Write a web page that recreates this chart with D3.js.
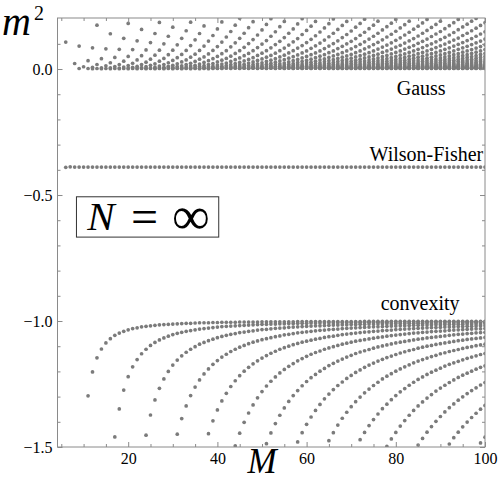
<!DOCTYPE html>
<html lang="en">
<head>
<meta charset="UTF-8">
<title>m2 versus M at N = infinity</title>
<style>
  body { margin: 0; background: #fff; }
  svg { display: block; }
  .axis .tick line { stroke: #8a8a8a; }
  .axis .tick text { font-family: "Liberation Serif", "DejaVu Serif", serif; font-size: 16px; fill: #000; }
  .note { font-family: "Liberation Serif", "DejaVu Serif", serif; fill: #000; }
</style>
</head>
<body>
<svg width="498" height="481"></svg>
<script src="https://d3js.org/d3.v7.min.js"></script>
<script>

// ticks
var mTicks = [20, 40, 60, 80, 100];
var mMinorTicks = [5, 10, 15, 25, 30, 35, 45, 50, 55, 65, 70, 75, 85, 90, 95];
var m2Ticks = [0.0, -0.5, -1.0, -1.5];
var m2MinorTicks = [0.1, -0.1, -0.2, -0.3, -0.4, -0.6, -0.7, -0.8, -0.9, -1.1, -1.2, -1.3, -1.4];

// Wilson-Fisher solutions, one per M starting at M = 6
var wilsonFisherStart = 6;
var wilsonFisher = [
  -0.390, -0.388, -0.389, -0.389, -0.389, -0.389, -0.389, -0.389, -0.389, -0.389,
  -0.389, -0.389, -0.389, -0.389, -0.389, -0.389, -0.389, -0.389, -0.389, -0.389,
  -0.389, -0.389, -0.389, -0.389, -0.389, -0.389, -0.389, -0.389, -0.389, -0.389,
  -0.389, -0.389, -0.389, -0.389, -0.389, -0.389, -0.389, -0.389, -0.389, -0.389,
  -0.389, -0.389, -0.389, -0.389, -0.389, -0.389, -0.389, -0.389, -0.389, -0.389,
  -0.389, -0.389, -0.389, -0.389, -0.389, -0.389, -0.389, -0.389, -0.389, -0.389,
  -0.389, -0.389, -0.389, -0.389, -0.389, -0.389, -0.389, -0.389, -0.389, -0.389,
  -0.389, -0.389, -0.389, -0.389, -0.389, -0.389, -0.389, -0.389, -0.389, -0.389,
  -0.389, -0.389, -0.389, -0.389, -0.389, -0.389, -0.389, -0.389, -0.389, -0.389,
  -0.389, -0.389, -0.389, -0.389, -0.389
];

// spurious roots near the Gaussian point: one list of m^2 values per M
var gauss06to30 = [
  [0.107], [], [0.022], [0.091, 0.002], [0.009],
  [0.033, 0.002], [0.084, 0.007, 0.001], [0.174, 0.018, 0.002], [0.041, 0.005, 0.001], [0.080, 0.013, 0.002],
  [0.140, 0.025, 0.005, 0.001], [0.046, 0.010, 0.002], [0.078, 0.018, 0.004, 0.001], [0.122, 0.031, 0.008, 0.002], [0.181, 0.050, 0.014, 0.004, 0.001],
  [0.077, 0.023, 0.007, 0.002], [0.112, 0.036, 0.011, 0.004, 0.001], [0.157, 0.053, 0.018, 0.006, 0.002], [0.076, 0.027, 0.010, 0.003, 0.001], [0.105, 0.039, 0.015, 0.005, 0.002],
  [0.141, 0.055, 0.021, 0.008, 0.003, 0.001], [0.185, 0.075, 0.031, 0.012, 0.005, 0.002], [0.100, 0.042, 0.018, 0.007, 0.003, 0.001], [0.130, 0.057, 0.025, 0.011, 0.005, 0.002], [0.166, 0.075, 0.034, 0.015, 0.007, 0.003, 0.001]
];
var gauss31to55 = [
  [0.096, 0.045, 0.021, 0.010, 0.004, 0.002],
  [0.122, 0.058, 0.028, 0.013, 0.006, 0.003, 0.001],
  [0.152, 0.074, 0.036, 0.018, 0.009, 0.004, 0.002],
  [0.186, 0.093, 0.047, 0.023, 0.012, 0.006, 0.003, 0.001],
  [0.116, 0.059, 0.030, 0.015, 0.008, 0.004, 0.002],
  [0.141, 0.074, 0.039, 0.020, 0.011, 0.005, 0.003, 0.001],
  [0.171, 0.091, 0.048, 0.026, 0.014, 0.007, 0.004, 0.002],
  [0.111, 0.060, 0.033, 0.018, 0.010, 0.005, 0.003, 0.001],
  [0.133, 0.074, 0.041, 0.022, 0.012, 0.007, 0.004, 0.002],
  [0.159, 0.089, 0.050, 0.028, 0.016, 0.009, 0.005, 0.003, 0.002],
  [0.187, 0.107, 0.061, 0.035, 0.020, 0.011, 0.006, 0.004, 0.002],
  [0.127, 0.073, 0.042, 0.024, 0.014, 0.008, 0.005, 0.003],
  [0.149, 0.088, 0.051, 0.030, 0.018, 0.010, 0.006, 0.004, 0.002],
  [0.174, 0.104, 0.062, 0.037, 0.022, 0.013, 0.008, 0.005, 0.003],
  [0.202, 0.122, 0.073, 0.044, 0.026, 0.016, 0.010, 0.006, 0.003, 0.002],
  [0.142, 0.086, 0.053, 0.032, 0.019, 0.012, 0.007, 0.004, 0.003],
  [0.164, 0.101, 0.062, 0.038, 0.024, 0.014, 0.009, 0.005, 0.003, 0.002],
  [0.188, 0.117, 0.073, 0.045, 0.028, 0.018, 0.011, 0.007, 0.004, 0.003],
  [0.135, 0.085, 0.054, 0.034, 0.021, 0.013, 0.008, 0.005, 0.003, 0.002],
  [0.155, 0.099, 0.063, 0.040, 0.025, 0.016, 0.010, 0.006, 0.004, 0.003],
  [0.177, 0.113, 0.073, 0.047, 0.030, 0.019, 0.012, 0.008, 0.005, 0.003, 0.002],
  [0.200, 0.130, 0.084, 0.054, 0.035, 0.023, 0.015, 0.010, 0.006, 0.004, 0.003],
  [0.148, 0.097, 0.063, 0.041, 0.027, 0.018, 0.011, 0.008, 0.005, 0.003, 0.002],
  [0.168, 0.110, 0.073, 0.048, 0.032, 0.021, 0.014, 0.009, 0.006, 0.004, 0.003],
  [0.189, 0.125, 0.083, 0.055, 0.037, 0.024, 0.016, 0.011, 0.007, 0.005, 0.003, 0.002]
];
var gauss56to80 = [
  [0.142, 0.095, 0.064, 0.043, 0.028, 0.019, 0.013, 0.009, 0.006, 0.004, 0.003],
  [0.159, 0.108, 0.073, 0.049, 0.033, 0.022, 0.015, 0.010, 0.007, 0.005, 0.003, 0.002],
  [0.179, 0.121, 0.083, 0.056, 0.038, 0.026, 0.018, 0.012, 0.008, 0.006, 0.004, 0.003],
  [0.200, 0.137, 0.093, 0.064, 0.044, 0.030, 0.020, 0.014, 0.010, 0.007, 0.004, 0.003, 0.002],
  [0.153, 0.105, 0.072, 0.050, 0.034, 0.024, 0.016, 0.011, 0.008, 0.005, 0.004, 0.003],
  [0.170, 0.118, 0.082, 0.057, 0.039, 0.027, 0.019, 0.013, 0.009, 0.006, 0.004, 0.003, 0.002],
  [0.189, 0.132, 0.092, 0.064, 0.045, 0.031, 0.022, 0.015, 0.011, 0.007, 0.005, 0.004, 0.003],
  [0.147, 0.103, 0.072, 0.051, 0.036, 0.025, 0.018, 0.012, 0.009, 0.006, 0.004, 0.003, 0.002],
  [0.163, 0.115, 0.081, 0.057, 0.040, 0.029, 0.020, 0.014, 0.010, 0.007, 0.005, 0.004, 0.003],
  [0.180, 0.128, 0.091, 0.065, 0.046, 0.033, 0.023, 0.016, 0.012, 0.008, 0.006, 0.004, 0.003, 0.002],
  [0.199, 0.142, 0.101, 0.072, 0.052, 0.037, 0.026, 0.019, 0.013, 0.010, 0.007, 0.005, 0.003, 0.002],
  [0.157, 0.112, 0.081, 0.058, 0.042, 0.030, 0.021, 0.015, 0.011, 0.008, 0.006, 0.004, 0.003, 0.002],
  [0.173, 0.125, 0.090, 0.065, 0.047, 0.034, 0.024, 0.018, 0.013, 0.009, 0.007, 0.005, 0.003, 0.002],
  [0.189, 0.137, 0.100, 0.072, 0.052, 0.038, 0.028, 0.020, 0.014, 0.010, 0.008, 0.006, 0.004, 0.003, 0.002],
  [0.151, 0.110, 0.080, 0.058, 0.043, 0.031, 0.023, 0.016, 0.012, 0.009, 0.006, 0.005, 0.003, 0.002],
  [0.166, 0.121, 0.089, 0.065, 0.048, 0.035, 0.026, 0.019, 0.014, 0.010, 0.007, 0.005, 0.004, 0.003, 0.002],
  [0.181, 0.134, 0.098, 0.072, 0.053, 0.039, 0.029, 0.021, 0.016, 0.011, 0.008, 0.006, 0.005, 0.003, 0.002],
  [0.198, 0.146, 0.108, 0.080, 0.059, 0.044, 0.032, 0.024, 0.018, 0.013, 0.010, 0.007, 0.005, 0.004, 0.003, 0.002],
  [0.160, 0.119, 0.088, 0.065, 0.048, 0.036, 0.027, 0.020, 0.015, 0.011, 0.008, 0.006, 0.004, 0.003, 0.002],
  [0.174, 0.130, 0.097, 0.072, 0.054, 0.040, 0.030, 0.022, 0.017, 0.012, 0.009, 0.007, 0.005, 0.004, 0.003, 0.002],
  [0.190, 0.142, 0.106, 0.079, 0.059, 0.044, 0.033, 0.025, 0.019, 0.014, 0.010, 0.008, 0.006, 0.004, 0.003, 0.002],
  [0.155, 0.116, 0.087, 0.066, 0.049, 0.037, 0.028, 0.021, 0.016, 0.012, 0.009, 0.007, 0.005, 0.004, 0.003, 0.002],
  [0.168, 0.127, 0.095, 0.072, 0.054, 0.041, 0.031, 0.023, 0.018, 0.013, 0.010, 0.008, 0.006, 0.004, 0.003, 0.002],
  [0.182, 0.138, 0.104, 0.079, 0.060, 0.045, 0.034, 0.026, 0.020, 0.015, 0.011, 0.008, 0.006, 0.005, 0.004, 0.003, 0.002],
  [0.197, 0.150, 0.114, 0.087, 0.066, 0.050, 0.038, 0.029, 0.022, 0.017, 0.013, 0.010, 0.007, 0.006, 0.004, 0.003, 0.002]
];
var gauss81to100 = [
  [0.163, 0.124, 0.094, 0.072, 0.055, 0.042, 0.032, 0.024, 0.019, 0.014, 0.011, 0.008, 0.006, 0.005, 0.004, 0.003, 0.002],
  [0.176, 0.135, 0.103, 0.079, 0.060, 0.046, 0.035, 0.027, 0.021, 0.016, 0.012, 0.009, 0.007, 0.005, 0.004, 0.003, 0.002],
  [0.190, 0.146, 0.112, 0.086, 0.066, 0.051, 0.039, 0.030, 0.023, 0.018, 0.013, 0.010, 0.008, 0.006, 0.005, 0.004, 0.003, 0.002],
  [0.158, 0.121, 0.093, 0.072, 0.055, 0.043, 0.033, 0.025, 0.020, 0.015, 0.012, 0.009, 0.007, 0.005, 0.004, 0.003, 0.002],
  [0.170, 0.131, 0.102, 0.078, 0.061, 0.047, 0.036, 0.028, 0.022, 0.017, 0.013, 0.010, 0.008, 0.006, 0.005, 0.004, 0.003, 0.002],
  [0.183, 0.142, 0.110, 0.085, 0.066, 0.051, 0.040, 0.031, 0.024, 0.018, 0.014, 0.011, 0.009, 0.007, 0.005, 0.004, 0.003, 0.002],
  [0.197, 0.153, 0.119, 0.093, 0.072, 0.056, 0.043, 0.034, 0.026, 0.020, 0.016, 0.012, 0.010, 0.007, 0.006, 0.005, 0.004, 0.003, 0.002],
  [0.165, 0.129, 0.100, 0.078, 0.061, 0.047, 0.037, 0.029, 0.023, 0.018, 0.014, 0.011, 0.008, 0.007, 0.005, 0.004, 0.003, 0.002],
  [0.177, 0.139, 0.108, 0.085, 0.066, 0.052, 0.040, 0.032, 0.025, 0.019, 0.015, 0.012, 0.009, 0.007, 0.006, 0.004, 0.003, 0.003, 0.002],
  [0.190, 0.149, 0.117, 0.092, 0.072, 0.056, 0.044, 0.035, 0.027, 0.021, 0.017, 0.013, 0.010, 0.008, 0.006, 0.005, 0.004, 0.003, 0.002],
  [0.160, 0.126, 0.099, 0.078, 0.061, 0.048, 0.038, 0.030, 0.023, 0.018, 0.014, 0.011, 0.009, 0.007, 0.006, 0.004, 0.003, 0.003, 0.002],
  [0.172, 0.135, 0.107, 0.084, 0.066, 0.052, 0.041, 0.033, 0.026, 0.020, 0.016, 0.013, 0.010, 0.008, 0.006, 0.005, 0.004, 0.003, 0.002],
  [0.184, 0.145, 0.115, 0.091, 0.072, 0.057, 0.045, 0.035, 0.028, 0.022, 0.018, 0.014, 0.011, 0.009, 0.007, 0.005, 0.004, 0.003, 0.003, 0.002],
  [0.197, 0.156, 0.123, 0.098, 0.078, 0.061, 0.049, 0.039, 0.031, 0.024, 0.019, 0.015, 0.012, 0.010, 0.008, 0.006, 0.005, 0.004, 0.003, 0.002],
  [0.167, 0.133, 0.105, 0.084, 0.067, 0.053, 0.042, 0.033, 0.027, 0.021, 0.017, 0.013, 0.011, 0.008, 0.007, 0.005, 0.004, 0.003, 0.003, 0.002],
  [0.178, 0.142, 0.113, 0.090, 0.072, 0.057, 0.046, 0.036, 0.029, 0.023, 0.018, 0.015, 0.012, 0.009, 0.007, 0.006, 0.005, 0.004, 0.003, 0.002],
  [0.190, 0.152, 0.121, 0.097, 0.077, 0.062, 0.049, 0.039, 0.032, 0.025, 0.020, 0.016, 0.013, 0.010, 0.008, 0.007, 0.005, 0.004, 0.003, 0.003, 0.002],
  [0.201, 0.162, 0.130, 0.104, 0.083, 0.067, 0.053, 0.043, 0.034, 0.027, 0.022, 0.018, 0.014, 0.011, 0.009, 0.007, 0.006, 0.005, 0.004, 0.003, 0.002],
  [0.173, 0.139, 0.111, 0.089, 0.072, 0.058, 0.046, 0.037, 0.030, 0.024, 0.019, 0.015, 0.012, 0.010, 0.008, 0.006, 0.005, 0.004, 0.003, 0.003, 0.002],
  [0.184, 0.148, 0.119, 0.096, 0.077, 0.062, 0.050, 0.040, 0.032, 0.026, 0.021, 0.017, 0.014, 0.011, 0.009, 0.007, 0.006, 0.005, 0.004, 0.003, 0.002]
];

// spurious roots near the convexity bound: each branch starts at its own M
var convexityStart = [11, 17, 24, 31, 38, 44, 51, 58, 65, 72, 78, 85, 92, 99];
var convexity0 = [
  -1.297, -1.202, -1.146, -1.111, -1.087, -1.070, -1.057, -1.048, -1.041, -1.035,
  -1.030, -1.027, -1.023, -1.021, -1.019, -1.017, -1.015, -1.014, -1.013, -1.012,
  -1.011, -1.010, -1.009, -1.009, -1.008, -1.007, -1.007, -1.007, -1.006, -1.006,
  -1.005, -1.005, -1.005, -1.005, -1.004, -1.004, -1.004, -1.004, -1.004, -1.003,
  -1.003, -1.003, -1.003, -1.003, -1.003, -1.003, -1.003, -1.002, -1.002, -1.002,
  -1.002, -1.002, -1.002, -1.002, -1.002, -1.002, -1.002, -1.002, -1.002, -1.002,
  -1.002, -1.002, -1.001, -1.001, -1.001, -1.001, -1.001, -1.001, -1.001, -1.001,
  -1.001, -1.001, -1.001, -1.001, -1.001, -1.001, -1.001, -1.001, -1.001, -1.001,
  -1.001, -1.001, -1.001, -1.001, -1.001, -1.001, -1.001, -1.001, -1.001, -1.001
];
var convexity1 = [
  -1.460, -1.349, -1.274, -1.221, -1.182, -1.153, -1.130, -1.112, -1.097, -1.085,
  -1.075, -1.067, -1.060, -1.054, -1.049, -1.045, -1.041, -1.038, -1.035, -1.032,
  -1.030, -1.028, -1.026, -1.024, -1.022, -1.021, -1.020, -1.019, -1.018, -1.017,
  -1.016, -1.015, -1.014, -1.013, -1.013, -1.012, -1.012, -1.011, -1.011, -1.010,
  -1.010, -1.009, -1.009, -1.009, -1.008, -1.008, -1.008, -1.007, -1.007, -1.007,
  -1.007, -1.006, -1.006, -1.006, -1.006, -1.006, -1.005, -1.005, -1.005, -1.005,
  -1.005, -1.005, -1.004, -1.004, -1.004, -1.004, -1.004, -1.004, -1.004, -1.004,
  -1.004, -1.004, -1.003, -1.003, -1.003, -1.003, -1.003, -1.003, -1.003, -1.003,
  -1.003, -1.003, -1.003, -1.003
];
var convexity2 = [
  -1.453, -1.373, -1.313, -1.267, -1.230, -1.200, -1.175, -1.155, -1.138, -1.124,
  -1.112, -1.102, -1.092, -1.085, -1.078, -1.072, -1.066, -1.061, -1.057, -1.053,
  -1.050, -1.046, -1.044, -1.041, -1.039, -1.036, -1.034, -1.033, -1.031, -1.029,
  -1.028, -1.027, -1.025, -1.024, -1.023, -1.022, -1.021, -1.020, -1.019, -1.019,
  -1.018, -1.017, -1.016, -1.016, -1.015, -1.015, -1.014, -1.014, -1.013, -1.013,
  -1.012, -1.012, -1.012, -1.011, -1.011, -1.011, -1.010, -1.010, -1.010, -1.009,
  -1.009, -1.009, -1.009, -1.008, -1.008, -1.008, -1.008, -1.008, -1.007, -1.007,
  -1.007, -1.007, -1.007, -1.006, -1.006, -1.006, -1.006
];
var convexity3 = [
  -1.449, -1.387, -1.337, -1.296, -1.262, -1.234, -1.210, -1.190, -1.172, -1.157,
  -1.143, -1.132, -1.121, -1.112, -1.104, -1.097, -1.090, -1.084, -1.079, -1.074,
  -1.070, -1.066, -1.062, -1.059, -1.055, -1.053, -1.050, -1.047, -1.045, -1.043,
  -1.041, -1.039, -1.037, -1.036, -1.034, -1.033, -1.032, -1.030, -1.029, -1.028,
  -1.027, -1.026, -1.025, -1.024, -1.023, -1.023, -1.022, -1.021, -1.020, -1.020,
  -1.019, -1.019, -1.018, -1.017, -1.017, -1.016, -1.016, -1.015, -1.015, -1.015,
  -1.014, -1.014, -1.013, -1.013, -1.013, -1.012, -1.012, -1.012, -1.012, -1.011
];
var convexity4 = [
  -1.447, -1.396, -1.353, -1.317, -1.287, -1.260, -1.237, -1.217, -1.199, -1.184,
  -1.170, -1.158, -1.147, -1.137, -1.128, -1.120, -1.112, -1.106, -1.100, -1.094,
  -1.089, -1.084, -1.080, -1.076, -1.072, -1.069, -1.065, -1.062, -1.060, -1.057,
  -1.054, -1.052, -1.050, -1.048, -1.046, -1.044, -1.043, -1.041, -1.040, -1.038,
  -1.037, -1.036, -1.034, -1.033, -1.032, -1.031, -1.030, -1.029, -1.028, -1.027,
  -1.026, -1.026, -1.025, -1.024, -1.024, -1.023, -1.022, -1.022, -1.021, -1.021,
  -1.020, -1.019, -1.019
];
var convexity5 = [
  -1.495, -1.445, -1.402, -1.365, -1.333, -1.305, -1.280, -1.258, -1.239, -1.222,
  -1.206, -1.192, -1.180, -1.169, -1.158, -1.149, -1.140, -1.132, -1.125, -1.119,
  -1.112, -1.107, -1.102, -1.097, -1.092, -1.088, -1.084, -1.080, -1.077, -1.074,
  -1.071, -1.068, -1.065, -1.063, -1.060, -1.058, -1.056, -1.054, -1.052, -1.050,
  -1.048, -1.047, -1.045, -1.044, -1.042, -1.041, -1.040, -1.039, -1.037, -1.036,
  -1.035, -1.034, -1.033, -1.032, -1.031, -1.031, -1.030
];
var convexity6 = [
  -1.487, -1.444, -1.407, -1.374, -1.345, -1.319, -1.296, -1.276, -1.257, -1.240,
  -1.225, -1.212, -1.199, -1.188, -1.177, -1.168, -1.159, -1.151, -1.143, -1.136,
  -1.129, -1.123, -1.118, -1.113, -1.108, -1.103, -1.099, -1.095, -1.091, -1.087,
  -1.084, -1.081, -1.078, -1.075, -1.072, -1.070, -1.067, -1.065, -1.063, -1.061,
  -1.059, -1.057, -1.055, -1.053, -1.052, -1.050, -1.049, -1.047, -1.046, -1.045
];
var convexity7 = [
  -1.480, -1.443, -1.410, -1.381, -1.355, -1.331, -1.309, -1.290, -1.272, -1.256,
  -1.242, -1.228, -1.216, -1.204, -1.194, -1.184, -1.175, -1.167, -1.159, -1.152,
  -1.145, -1.139, -1.133, -1.127, -1.122, -1.117, -1.113, -1.108, -1.104, -1.100,
  -1.097, -1.093, -1.090, -1.087, -1.084, -1.081, -1.078, -1.076, -1.073, -1.071,
  -1.069, -1.067, -1.065
];
var convexity8 = [
  -1.475, -1.443, -1.413, -1.386, -1.362, -1.340, -1.320, -1.302, -1.285, -1.270,
  -1.256, -1.243, -1.230, -1.219, -1.209, -1.199, -1.190, -1.182, -1.174, -1.166,
  -1.159, -1.153, -1.147, -1.141, -1.136, -1.130, -1.126, -1.121, -1.117, -1.113,
  -1.109, -1.105, -1.102, -1.098, -1.095, -1.092
];
var convexity9 = [
  -1.471, -1.442, -1.415, -1.391, -1.369, -1.348, -1.330, -1.312, -1.296, -1.281,
  -1.268, -1.255, -1.243, -1.232, -1.222, -1.212, -1.203, -1.195, -1.187, -1.179,
  -1.172, -1.166, -1.160, -1.154, -1.148, -1.143, -1.138, -1.133, -1.129
];
var convexity10 = [
  -1.497, -1.468, -1.442, -1.417, -1.395, -1.374, -1.355, -1.337, -1.321, -1.306,
  -1.292, -1.278, -1.266, -1.255, -1.244, -1.234, -1.224, -1.215, -1.207, -1.199,
  -1.191, -1.184, -1.178
];
var convexity11 = [
  -1.492, -1.466, -1.441, -1.419, -1.398, -1.379, -1.361, -1.344, -1.329, -1.314,
  -1.301, -1.288, -1.276, -1.265, -1.254, -1.244
];
var convexity12 = [-1.488, -1.463, -1.441, -1.420, -1.401, -1.383, -1.366, -1.350, -1.335];
var convexity13 = [-1.484, -1.461];

var convexityCurves = [convexity0, convexity1, convexity2, convexity3, convexity4, convexity5, convexity6,
  convexity7, convexity8, convexity9, convexity10, convexity11, convexity12, convexity13];
var gaussBlocks = [[6, gauss06to30], [31, gauss31to55], [56, gauss56to80], [81, gauss81to100]];

// ---------------------------------------------------------------

var svg = d3.select("svg");
var frame = {left: 57.5, right: 485, top: 18, bottom: 447};

var mToX = d3.scaleLinear().domain([4.15, 100]).range([frame.left, frame.right]);
var m2ToY = d3.scaleLinear().domain([-1.5, 0.2025]).range([frame.bottom, frame.top]);

var points = [];
gaussBlocks.forEach(function(block) {
  block[1].forEach(function(column, i) {
    column.forEach(function(v) { points.push({M: block[0] + i, m2: v}); });
  });
});
wilsonFisher.forEach(function(v, i) { points.push({M: wilsonFisherStart + i, m2: v}); });
convexityCurves.forEach(function(curve, k) {
  curve.forEach(function(v, i) { points.push({M: convexityStart[k] + i, m2: v}); });
});

svg.append("clipPath").attr("id", "plot-area")
  .append("rect")
  .attr("x", frame.left).attr("y", frame.top)
  .attr("width", frame.right - frame.left).attr("height", frame.bottom - frame.top);

svg.append("g")
  .attr("clip-path", "url(#plot-area)")
  .selectAll(".dot")
  .data(points)
  .enter()
  .append("circle")
  .attr("class", "dot")
  .attr("r", 1.85)
  .attr("cx", function(d) { return mToX(d.M); })
  .attr("cy", function(d) { return m2ToY(d.m2); })
  .attr("fill", "#7b7b7b");

// axes, ticks pointing into the frame on all four sides
function addAxis(axis, tx, ty) {
  var g = svg.append("g").attr("class", "axis")
    .attr("transform", "translate(" + tx + "," + ty + ")")
    .call(axis);
  g.select(".domain").remove();
  return g;
}

var fmt = d3.format(".1f");
addAxis(d3.axisBottom(mToX).tickValues(mTicks).tickSize(-5).tickPadding(6), 0, frame.bottom);
addAxis(d3.axisBottom(mToX).tickValues(mMinorTicks).tickSize(-3).tickFormat(""), 0, frame.bottom);
addAxis(d3.axisTop(mToX).tickValues(mTicks).tickSize(-5).tickFormat(""), 0, frame.top);
addAxis(d3.axisTop(mToX).tickValues(mMinorTicks).tickSize(-3).tickFormat(""), 0, frame.top);
addAxis(d3.axisLeft(m2ToY).tickValues(m2Ticks).tickSize(-5).tickPadding(5).tickFormat(fmt), frame.left, 0);
addAxis(d3.axisLeft(m2ToY).tickValues(m2MinorTicks).tickSize(-3).tickFormat(""), frame.left, 0);
addAxis(d3.axisRight(m2ToY).tickValues(m2Ticks).tickSize(-5).tickFormat(""), frame.right, 0);
addAxis(d3.axisRight(m2ToY).tickValues(m2MinorTicks).tickSize(-3).tickFormat(""), frame.right, 0);

svg.append("rect")
  .attr("x", frame.left).attr("y", frame.top)
  .attr("width", frame.right - frame.left).attr("height", frame.bottom - frame.top)
  .attr("fill", "none").attr("stroke", "#8a8a8a").attr("stroke-width", 1);

// axis titles
var mLabel = svg.append("text").attr("class", "note")
  .attr("x", 2).attr("y", 35);
mLabel.append("tspan").attr("font-style", "italic").attr("font-size", 40).text("m");
mLabel.append("tspan").attr("font-size", 20).attr("dy", -15).attr("dx", 3).text("2");

svg.append("text").attr("class", "note")
  .attr("x", 262).attr("y", 473)
  .attr("text-anchor", "middle")
  .attr("font-style", "italic").attr("font-size", 35)
  .text("M");

// branch names
svg.append("text").attr("class", "note").attr("font-size", 20)
  .attr("x", mToX(80.2)).attr("y", m2ToY(-0.103)).text("Gauss");
svg.append("text").attr("class", "note").attr("font-size", 20)
  .attr("text-anchor", "end")
  .attr("x", mToX(99.6)).attr("y", m2ToY(-0.366)).text("Wilson-Fisher");
svg.append("text").attr("class", "note").attr("font-size", 20)
  .attr("x", mToX(76.6)).attr("y", m2ToY(-0.955)).text("convexity");

// N = infinity box
var box = {m0: 8.4, m1: 40.3, top: -0.507, bottom: -0.667};
svg.append("rect")
  .attr("x", mToX(box.m0)).attr("y", m2ToY(box.top))
  .attr("width", mToX(box.m1) - mToX(box.m0))
  .attr("height", m2ToY(box.bottom) - m2ToY(box.top))
  .attr("fill", "#fff").attr("stroke", "#333").attr("stroke-width", 1);

svg.append("text").attr("class", "note")
  .attr("x", 101).attr("y", 230).attr("text-anchor", "middle")
  .attr("font-style", "italic").attr("font-size", 41).text("N");
svg.append("text").attr("class", "note")
  .attr("x", 144.5).attr("y", 233).attr("text-anchor", "middle")
  .attr("font-size", 48).text("=");
svg.append("text").attr("class", "note")
  .attr("x", 191).attr("y", 234).attr("text-anchor", "middle")
  .attr("font-size", 53).text("\u221e");

</script>
</body>
</html>
